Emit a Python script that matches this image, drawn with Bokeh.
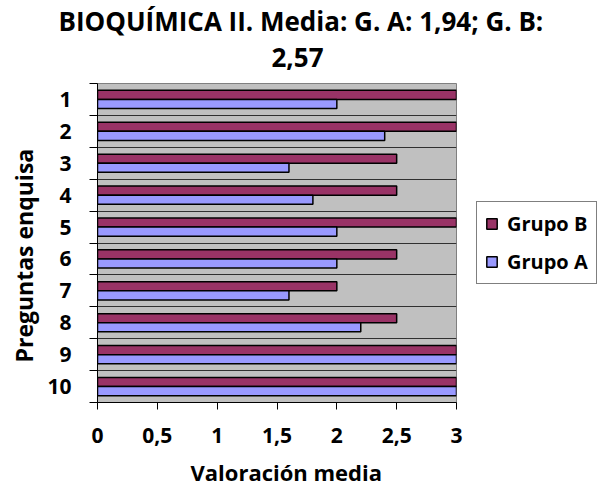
from bokeh.plotting import figure
from bokeh.models import (Range1d, FixedTicker, CustomJSTickFormatter, Legend,
                          LegendItem, Title, ColumnDataSource)
from bokeh.transform import dodge
from bokeh.embed import file_html
from bokeh.resources import INLINE

# ---- data ----
questions = [1, 2, 3, 4, 5, 6, 7, 8, 9, 10]
grupo_b = [3.0, 3.0, 2.5, 2.5, 3.0, 2.5, 2.0, 2.5, 3.0, 3.0]
grupo_a = [2.0, 2.4, 1.6, 1.8, 2.0, 2.0, 1.6, 2.2, 3.0, 3.0]
x_ticks = [0, 0.5, 1, 1.5, 2, 2.5, 3]
series_labels = ["Grupo B", "Grupo A"]
title_line1 = "BIOQUÍMICA II. Media: G. A: 1,94; G. B:"
title_line2 = "2,57"
x_label = "Valoración media"
y_label = "Preguntas enquisa"

COLOR_B = "#993366"
COLOR_A = "#9999FF"
FONT = "Open Sans"

src = ColumnDataSource(dict(q=questions, a=grupo_a, b=grupo_b))

p = figure(frame_width=359, frame_height=319,
           x_range=Range1d(0, max(x_ticks)),
           y_range=Range1d(max(questions) + 0.5, min(questions) - 0.5),
           output_backend="svg", toolbar_location=None,
           min_border_left=0, min_border_right=133,
           min_border_top=0, min_border_bottom=0)

p.background_fill_color = "#C0C0C0"
p.border_fill_color = "white"
p.outline_line_color = "#808080"

bar_h = 0.286
rb = p.hbar(y=dodge("q", -bar_h / 2), left=0, right="b", height=bar_h,
            fill_color=COLOR_B, line_color="black", line_width=1.5, source=src)
ra = p.hbar(y=dodge("q", bar_h / 2), left=0, right="a", height=bar_h,
            fill_color=COLOR_A, line_color="black", line_width=1.5, source=src)

# y axis: labels at category centres, ticks at boundaries
bounds = [min(questions) - 0.5] + [q + 0.5 for q in questions]
yt = FixedTicker(ticks=questions, minor_ticks=bounds)
p.yaxis.ticker = yt
p.ygrid.ticker = yt
p.ygrid.grid_line_color = None
p.ygrid.minor_grid_line_color = "#303030"
p.ygrid.minor_grid_line_width = 1
p.yaxis.major_tick_line_color = None
p.yaxis.major_tick_out = 0
p.yaxis.major_tick_in = 0
p.yaxis.minor_tick_line_color = "black"
p.yaxis.minor_tick_out = 8
p.yaxis.minor_tick_in = 0
p.yaxis.major_label_standoff = 18

p.xaxis.ticker = FixedTicker(ticks=x_ticks, minor_ticks=[])
p.xaxis.formatter = CustomJSTickFormatter(code="return tick.toString().replace('.', ',');")
p.xaxis.major_tick_out = 7
p.xaxis.major_tick_in = 0
p.xaxis.major_label_standoff = 18
p.xaxis.major_tick_line_color = "black"
p.xgrid.grid_line_color = None

for ax in (p.xaxis[0], p.yaxis[0]):
    ax.axis_line_color = "black"
    ax.major_label_text_font = FONT
    ax.major_label_text_font_style = "bold"
    ax.major_label_text_font_size = "21px"
    ax.major_label_text_color = "black"

# legend to the right of the plot area
legend = Legend(items=[LegendItem(label=series_labels[0], renderers=[rb]),
                       LegendItem(label=series_labels[1], renderers=[ra])],
                location=(20, 118), margin=0, padding=8, spacing=11,
                glyph_width=13, glyph_height=13, label_height=20,
                label_standoff=9,
                border_line_color="black", border_line_width=1,
                background_fill_color="white", background_fill_alpha=1,
                label_text_font=FONT, label_text_font_style="bold",
                label_text_font_size="20px", label_text_color="black")
p.add_layout(legend, "right")

def mk_title(txt, size, offset, standoff):
    return Title(text=txt, align="left", offset=offset, text_font=FONT,
                 text_font_style="bold", text_font_size=size,
                 text_color="black", standoff=standoff)

p.add_layout(mk_title(y_label, "23px", 40, 10), "left")
p.add_layout(mk_title(x_label, "22px", 93, 18), "below")
p.add_layout(mk_title(" ", "6px", 0, 0), "above")
p.add_layout(mk_title(title_line2, "26px", 174, 14), "above")
p.add_layout(mk_title(title_line1, "26px", -39, 0), "above")

open("out.html", "w").write(file_html(p, INLINE))
